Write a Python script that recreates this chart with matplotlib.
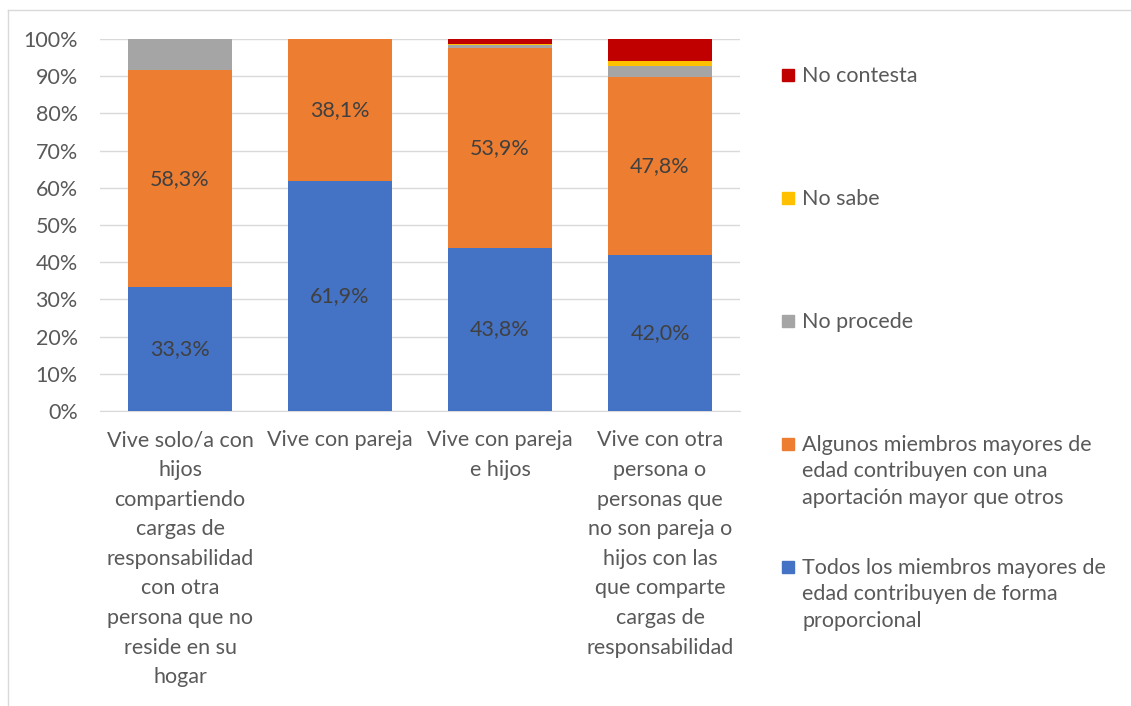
import matplotlib
matplotlib.use("Agg")
import matplotlib.pyplot as plt
from matplotlib.lines import Line2D
from matplotlib.patches import Rectangle
import numpy as np

plt.rcParams["font.family"] = ["Lato", "DejaVu Sans"]

categories = [
    "Vive solo/a con\nhijos\ncompartiendo\ncargas de\nresponsabilidad\ncon otra\npersona que no\nreside en su\nhogar",
    "Vive con pareja",
    "Vive con pareja\ne hijos",
    "Vive con otra\npersona o\npersonas que\nno son pareja o\nhijos con las\nque comparte\ncargas de\nresponsabilidad",
]

todos = [33.3, 61.9, 43.8, 42.0]
algunos = [58.3, 38.1, 53.9, 47.8]
no_procede = [8.3, 0.0, 0.6, 2.9]
no_sabe = [0.0, 0.0, 0.4, 1.4]
no_contesta = [0.0, 0.0, 1.3, 5.9]

series_names = [
    "Todos los miembros mayores de\nedad contribuyen de forma\nproporcional",
    "Algunos miembros mayores de\nedad contribuyen con una\naportación mayor que otros",
    "No procede",
    "No sabe",
    "No contesta",
]
series_values = [todos, algunos, no_procede, no_sabe, no_contesta]
colors = ["#4472C4", "#ED7D31", "#A5A5A5", "#FFC000", "#C00000"]
labelled = [True, True, False, False, False]

FS = 15.5
W, H = 1131, 706
fig = plt.figure(figsize=(W / 100, H / 100), dpi=100)
ax = fig.add_axes([100 / W, 1 - 411 / H, 640 / W, 372 / H])

x = np.arange(len(categories))
bottom = np.zeros(len(categories))
for vals, col, lab in zip(series_values, colors, labelled):
    vals = np.array(vals)
    bars = ax.bar(x, vals, width=0.645, bottom=bottom, color=col, zorder=3)
    if lab:
        ax.bar_label(bars, labels=[f"{v:.1f}".replace(".", ",") + "%" for v in vals],
                     label_type="center", color="#404040", fontsize=FS)
    bottom += vals

ax.set_xlim(-0.5, 3.5)
ax.set_ylim(0, 100)
ax.set_yticks(np.arange(0, 101, 10))
ax.set_yticklabels([f"{v}%" for v in range(0, 101, 10)], color="#595959", fontsize=FS)
ax.set_xticks(x)
ax.set_xticklabels(categories, color="#595959", fontsize=FS, linespacing=1.6)
ax.tick_params(axis="both", length=0)
ax.tick_params(axis="y", pad=16)
ax.tick_params(axis="x", pad=14)
ax.yaxis.grid(True, color="#D9D9D9", linewidth=1, zorder=0)
for s in ["top", "right", "left"]:
    ax.spines[s].set_visible(False)
ax.spines["bottom"].set_color("#D9D9D9")

# legend, top entry first as in the original
tops = [66, 189, 312, 435, 558]
for i, (name, col) in enumerate(zip(series_names[::-1], colors[::-1])):
    ty = tops[i]
    fig.add_artist(Rectangle((782 / W, 1 - (ty + 15) / H), 12 / W, 12 / H,
                             transform=fig.transFigure, color=col))
    fig.text(802 / W, 1 - ty / H, name, color="#595959", fontsize=FS,
             va="top", ha="left", linespacing=1.4)

# chart frame
fig.add_artist(Line2D([8 / W, 1], [1 - 10 / H, 1 - 10 / H], color="#D9D9D9", lw=1,
                      transform=fig.transFigure))
fig.add_artist(Line2D([8 / W, 8 / W], [0, 1 - 10 / H], color="#D9D9D9", lw=1,
                      transform=fig.transFigure))

fig.savefig("out.png", dpi=100)
